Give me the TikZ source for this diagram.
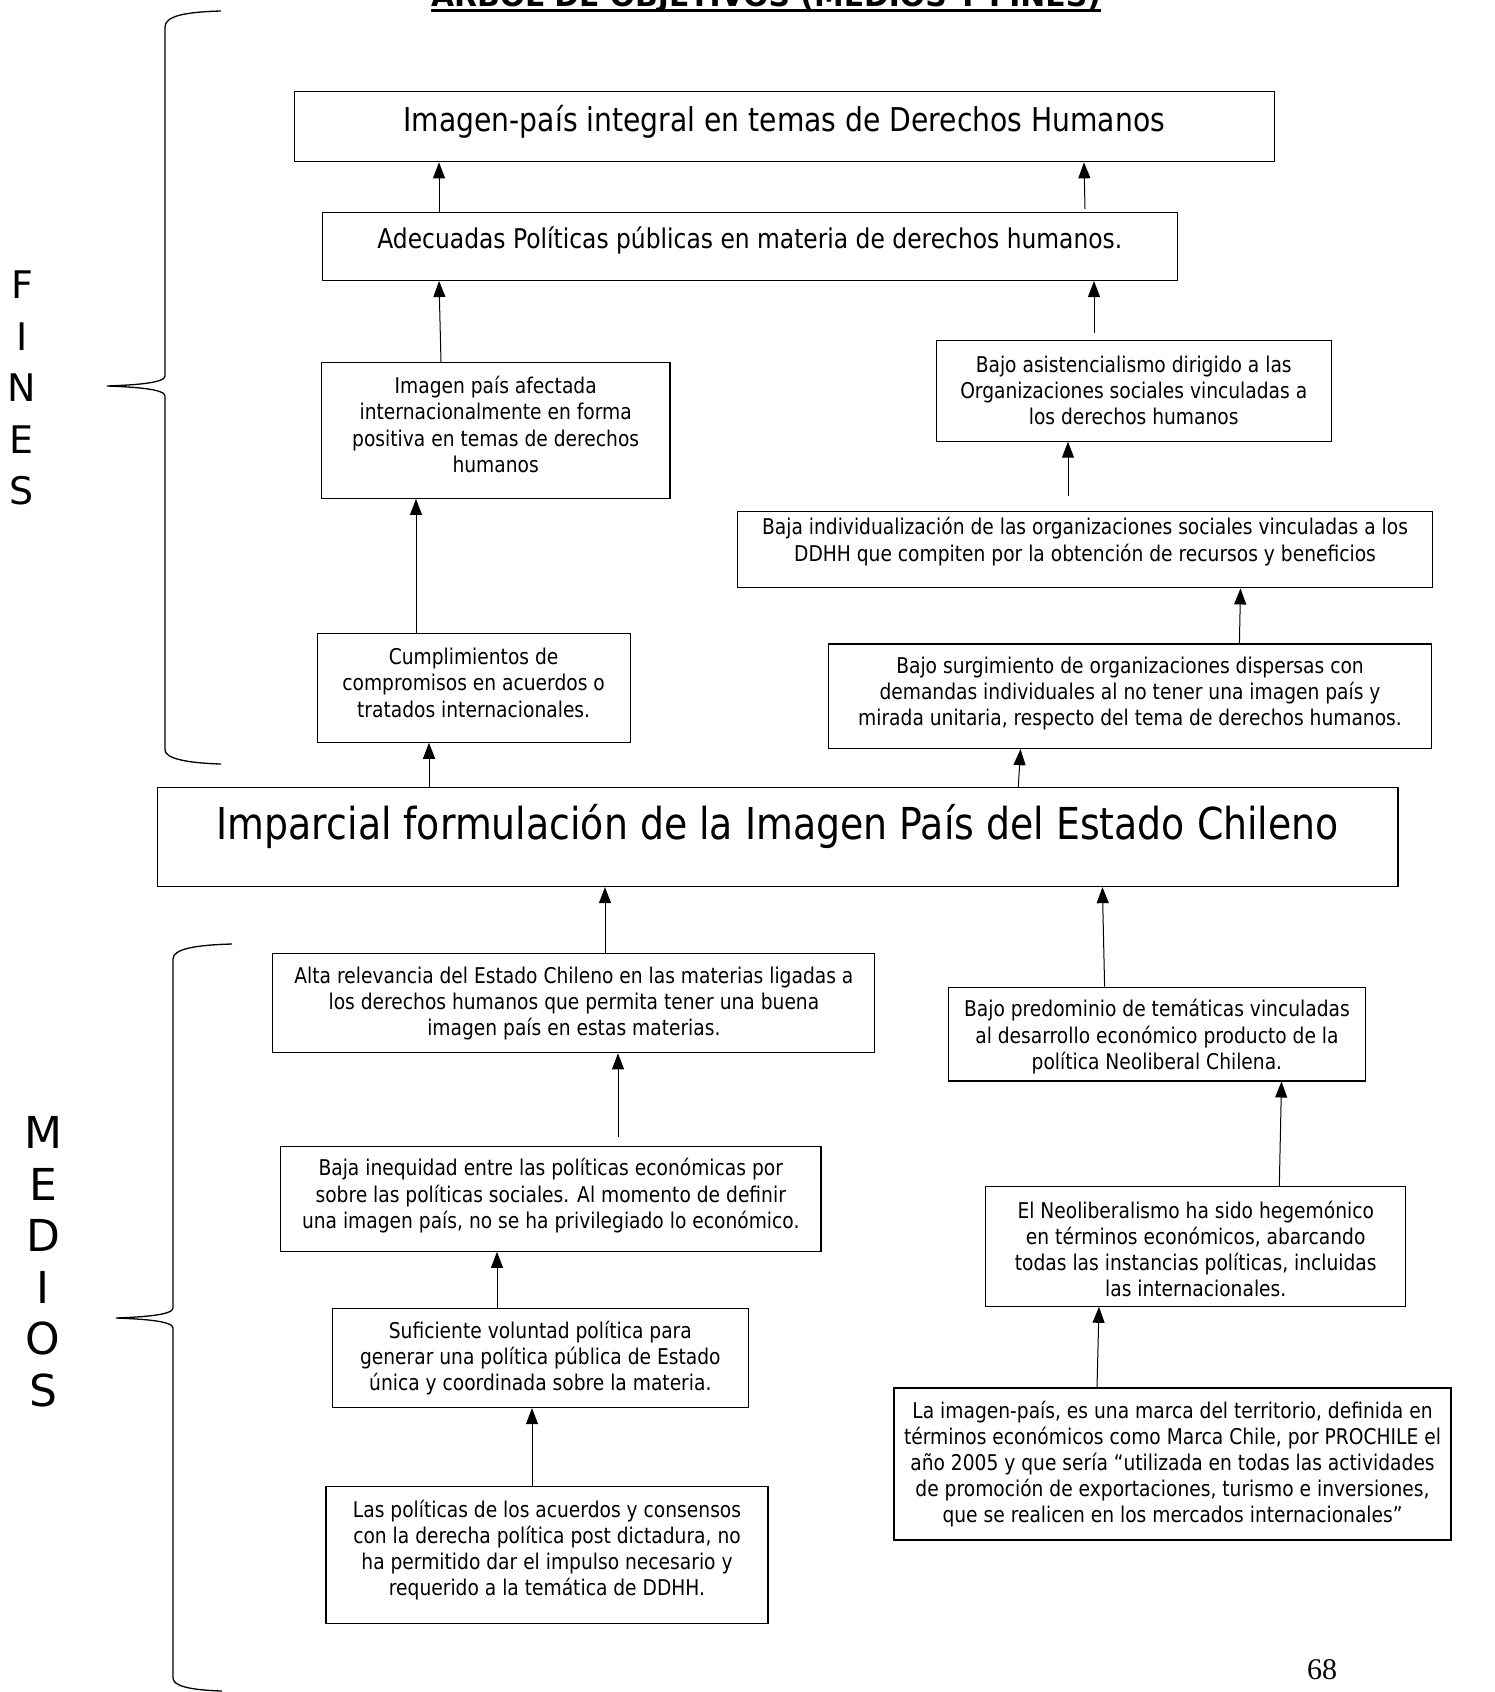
\documentclass[tikz,border=0pt]{standalone}
\usepackage{fontspec}
\setmainfont{DejaVu Sans}[FakeStretch=0.86]
\newfontfamily\titlefont{DejaVu Sans Bold}
\newfontfamily\sidefont{DejaVu Sans}
\newfontfamily\numfont{Liberation Serif}
\usetikzlibrary{arrows.meta}
\tikzset{
  box/.style={draw, line width=1.1pt, inner sep=0pt},
  txt/.style={inner sep=0pt, align=center, font=\fontsize{21.7}{26.2}\selectfont},
  arr/.style={line width=1pt, -{Triangle[length=16pt, width=12pt]}},
  bracepath/.style={line width=1.3pt},
}
\begin{document}
\begin{tikzpicture}[x=1pt, y=-1pt]
\useasboundingbox (0,0) rectangle (1494,1692);

% title
\node[anchor=base, inner sep=0pt, font=\titlefont\fontsize{29.8}{36}\selectfont] (title) at (766,6) {ARBOL DE OBJETIVOS (MEDIOS Y FINES)};
\draw[line width=3.5pt] ([yshift=-4.5pt]title.base west) -- ([yshift=-4.5pt]title.base east);

% side labels
\node[inner sep=0pt, align=center, font=\sidefont\fontsize{38}{51.5}\selectfont] (fines) at (22,388) {F\\I\\N\\E\\S};
\node[inner sep=0pt, align=center, font=\sidefont\fontsize{44}{51.5}\selectfont] (medios) at (43,1262) {M\\E\\D\\I\\O\\S};

% braces
\draw[bracepath] (221,11) .. controls (185,12) and (165,16) .. (165,27)
  -- (165,376) .. controls (165,383) and (135,385) .. (107,386)
  .. controls (135,387) and (165,389) .. (165,396)
  -- (165,750) .. controls (165,758) and (185,763) .. (221,764);
\draw[bracepath] (232,944) .. controls (195,945) and (173,949) .. (173,959)
  -- (173,1308) .. controls (173,1315) and (143,1317) .. (116,1318)
  .. controls (143,1319) and (173,1321) .. (173,1328)
  -- (173,1678) .. controls (173,1686) and (190,1690) .. (222,1691);

% boxes
\node[box, minimum width=980pt, minimum height=70pt] (b1) at (784.3,126.8) {};
\node[txt, font=\fontsize{32.8}{39}\selectfont] (t1) at (784.3,121.9) {Imagen-país integral en temas de Derechos Humanos};

\node[box, minimum width=854.5pt, minimum height=68pt] (b2) at (749.8,246.5) {};
\node[txt, font=\fontsize{27.2}{33}\selectfont] (t2) at (749.8,240.5) {Adecuadas Políticas públicas en materia de derechos humanos.};

\node[box, minimum width=348.5pt, minimum height=136pt] (b3) at (495.7,430.4) {};
\node[txt] (t3) at (495.7,424.5) {Imagen país afectada\\internacionalmente en forma\\positiva en temas de derechos\\humanos};

\node[box, minimum width=395pt, minimum height=100.3pt] (b4) at (1133.7,391) {};
\node[txt] (t4) at (1133.7,390.5) {Bajo asistencialismo dirigido a las\\Organizaciones sociales vinculadas a\\los derechos humanos};

\node[box, minimum width=694.7pt, minimum height=76.6pt] (b5) at (1085,549.6) {};
\node[txt] (t5) at (1085,541.5) {Baja individualización de las organizaciones sociales vinculadas a los\\DDHH que compiten por la obtención de recursos y beneficios};

\node[box, minimum width=313pt, minimum height=109pt] (b6) at (473.6,687.7) {};
\node[txt] (t6) at (473.6,682.8) {Cumplimientos de\\compromisos en acuerdos o\\tratados internacionales.};

\node[box, minimum width=603pt, minimum height=104.6pt] (b7) at (1130,696.3) {};
\node[txt] (t7) at (1130,693.6) {Bajo surgimiento de organizaciones dispersas con\\demandas individuales al no tener una imagen país y\\mirada unitaria, respecto del tema de derechos humanos.};

\node[box, minimum width=1240.5pt, minimum height=99.2pt] (b8) at (777.7,837) {};
\node[txt, font=\fontsize{44}{53}\selectfont] (t8) at (777.7,826.3) {Imparcial formulación de la Imagen País del Estado Chileno};

\node[box, minimum width=602pt, minimum height=99.2pt] (b9) at (573.9,1003.2) {};
\node[txt] (t9) at (573.9,1003.7) {Alta relevancia del Estado Chileno en las materias ligadas a\\los derechos humanos que permita tener una buena\\imagen país en estas materias.};

\node[box, minimum width=417.5pt, minimum height=93.9pt] (b10) at (1156.9,1034) {};
\node[txt] (t10) at (1156.9,1036.6) {Bajo predominio de temáticas vinculadas\\al desarrollo económico producto de la\\política Neoliberal Chilena.};

\node[box, minimum width=540.5pt, minimum height=104.6pt] (b11) at (550.7,1199) {};
\node[txt] (t11) at (550.7,1195.7) {Baja inequidad entre las políticas económicas por\\sobre las políticas sociales. Al momento de definir\\una imagen país, no se ha privilegiado lo económico.};

\node[box, minimum width=419.6pt, minimum height=119.7pt] (b12) at (1195.7,1246.4) {};
\node[txt] (t12) at (1195.7,1249) {El Neoliberalismo ha sido hegemónico\\en términos económicos, abarcando\\todas las instancias políticas, incluidas\\las internacionales.};

\node[box, minimum width=416.4pt, minimum height=99.2pt] (b13) at (540.3,1358) {};
\node[txt] (t13) at (540.3,1358) {Suficiente voluntad política para\\generar una política pública de Estado\\única y coordinada sobre la materia.};

\node[box, minimum width=557pt, minimum height=152pt] (b14) at (1172.5,1464) {};
\node[txt] (t14) at (1172.5,1464) {La imagen-país, es una marca del territorio, definida en\\términos económicos como Marca Chile, por PROCHILE el\\año 2005 y que sería “utilizada en todas las actividades\\de promoción de exportaciones, turismo e inversiones,\\que se realicen en los mercados internacionales”};

\node[box, minimum width=442pt, minimum height=137pt] (b15) at (547,1555) {};
\node[txt] (t15) at (547,1550) {Las políticas de los acuerdos y consensos\\con la derecha política post dictadura, no\\ha permitido dar el impulso necesario y\\requerido a la temática de DDHH.};

% page number
\node[inner sep=0pt, font=\numfont\fontsize{30}{34}\selectfont] (pg) at (1322,1670) {68};

% arrows
\draw[arr] (b2.north -| 439,0) -- (b1.south -| 439,0);
\draw[arr] ([yshift=3pt]b2.north -| 1085,0) -- (b1.south -| 1084,0);
\draw[arr] (b3.north -| 441,0) -- (b2.south -| 439,0);
\draw[arr, shorten <=7pt] (b4.north -| 1094,0) -- (b2.south -| 1094,0);
\draw[arr] (b6.north -| 416,0) -- (b3.south -| 416,0);
\draw[arr, shorten <=15pt] (b5.north -| 1068,0) -- (b4.south -| 1068,0);
\draw[arr] (b7.north -| 1239.4,0) -- (b5.south -| 1240.5,0);
\draw[arr] (b8.north -| 429,0) -- (b6.south -| 429,0);
\draw[arr] (b8.north -| 1018.3,0) -- (b7.south -| 1020.5,0);
\draw[arr] (b9.north -| 605,0) -- (b8.south -| 605,0);
\draw[arr] (b10.north -| 1104.6,0) -- (b8.south -| 1102.4,0);
\draw[arr, shorten <=9pt] (b11.north -| 618,0) -- (b9.south -| 618,0);
\draw[arr] (b12.north -| 1279.3,0) -- (b10.south -| 1281.5,0);
\draw[arr] (b13.north -| 497,0) -- (b11.south -| 497,0);
\draw[arr] (b14.north -| 1097,0) -- (b12.south -| 1099,0);
\draw[arr] (b15.north -| 532,0) -- (b13.south -| 532,0);
\end{tikzpicture}
\end{document}
